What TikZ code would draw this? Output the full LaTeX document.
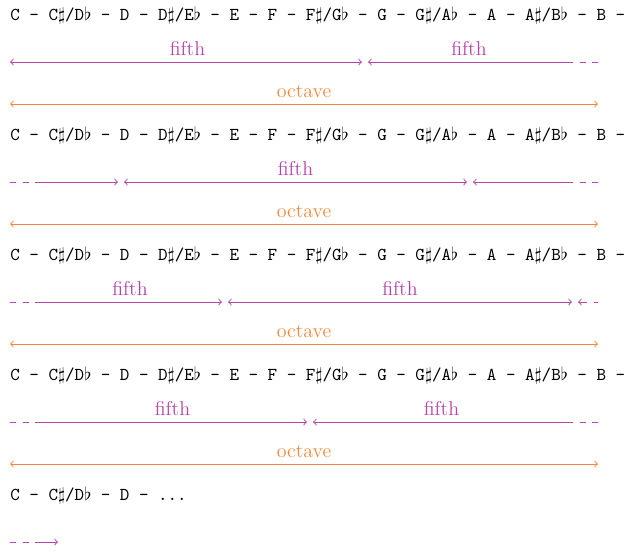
\documentclass[tikz,border=0pt]{standalone}
\usepackage{xcolor}
\usetikzlibrary{arrows}
\definecolor{fifthpurple}{HTML}{B543A8}
\definecolor{octaveorange}{HTML}{F4873C}
\newcommand{\noterow}{C - C$\sharp$/D$\flat$ - D - D$\sharp$/E$\flat$ - E - F - F$\sharp$/G$\flat$ - G - G$\sharp$/A$\flat$ - A - A$\sharp$/B$\flat$ - B -}
\tikzset{
    >=to,
    notes/.style={
        anchor=base west,
        inner sep=0pt,
        font=\ttfamily\fontsize{10}{12}\selectfont
    },
    fifth/.style={draw=fifthpurple, line width=0.5pt},
    octave/.style={draw=octaveorange, line width=0.5pt, <->},
    wrapin/.style={draw=fifthpurple, line width=0.5pt, dash pattern=on 3.3pt off 3.6pt},
    wrapout/.style={draw=fifthpurple, line width=0.5pt, dash pattern=on 3.3pt off 3.6pt, dash phase=3.3pt},
    lbl/.style={midway, above, font=\fontsize{11}{13}\selectfont},
    gapin/.style={shorten <=1.65pt},
    gapout/.style={shorten >=1.65pt},
}

\begin{document}
\begin{tikzpicture}[x=0.55pt, y=-0.55pt]
\useasboundingbox (0,0) rectangle (629,551);

% note rows
\foreach \r/\yy in {1/20, 2/140, 3/260, 4/380} {
    \node[notes] (row\r) at (10,\yy) {\noterow};
}
\node[notes] (row5) at (10,500) {C - C$\sharp$/D$\flat$ - D - ...};

% octaves
\foreach \r/\yy in {1/104, 2/224, 3/344, 4/464} {
    \coordinate (oct\r l) at (10,\yy);
    \coordinate (oct\r r) at (598,\yy);
    \draw[octave] (oct\r l) -- (oct\r r) node[lbl, octaveorange] {octave};
}

% fifths, row 1
\coordinate (f1a) at (10,62);
\coordinate (f1b) at (365,62);
\coordinate (f1c) at (573,62);
\coordinate (f1d) at (598,62);
\draw[fifth, <->, gapout] (f1a) -- (f1b) node[lbl, fifthpurple] {fifth};
\draw[fifth, <-, gapin] (f1b) -- (f1c) node[lbl, fifthpurple] {fifth};
\draw[wrapout] (f1c) -- (f1d);

% fifths, row 2
\coordinate (f2a) at (10,182);
\coordinate (f2b) at (35,182);
\coordinate (f2c) at (121,182);
\coordinate (f2d) at (470,182);
\coordinate (f2e) at (573,182);
\coordinate (f2f) at (598,182);
\draw[wrapin] (f2a) -- (f2b);
\draw[fifth, ->, gapout] (f2b) -- (f2c);
\draw[fifth, <->, gapin, gapout] (f2c) -- (f2d) node[lbl, fifthpurple] {fifth};
\draw[fifth, <-, gapin] (f2d) -- (f2e);
\draw[wrapout] (f2e) -- (f2f);

% fifths, row 3
\coordinate (f3a) at (10,302);
\coordinate (f3b) at (35,302);
\coordinate (f3c) at (225,302);
\coordinate (f3d) at (575,302);
\coordinate (f3e) at (587,302);
\coordinate (f3f) at (598,302);
\draw[wrapin] (f3a) -- (f3b);
\draw[fifth, ->, gapout] (f3b) -- (f3c) node[lbl, fifthpurple] {fifth};
\draw[fifth, <->, gapin, gapout] (f3c) -- (f3d) node[lbl, fifthpurple] {fifth};
\draw[fifth, <-, gapin] (f3d) -- (f3e);
\draw[wrapout] (f3e) -- (f3f);

% fifths, row 4
\coordinate (f4a) at (10,422);
\coordinate (f4b) at (35,422);
\coordinate (f4c) at (310,422);
\coordinate (f4d) at (573,422);
\coordinate (f4e) at (598,422);
\draw[wrapin] (f4a) -- (f4b);
\draw[fifth, ->, gapout] (f4b) -- (f4c) node[lbl, fifthpurple] {fifth};
\draw[fifth, <-, gapin] (f4c) -- (f4d) node[lbl, fifthpurple] {fifth};
\draw[wrapout] (f4d) -- (f4e);

% fifths, row 5
\coordinate (f5a) at (10,542);
\coordinate (f5b) at (35,542);
\coordinate (f5c) at (58,542);
\draw[wrapin] (f5a) -- (f5b);
\draw[fifth, ->] (f5b) -- (f5c);
\end{tikzpicture}
\end{document}
